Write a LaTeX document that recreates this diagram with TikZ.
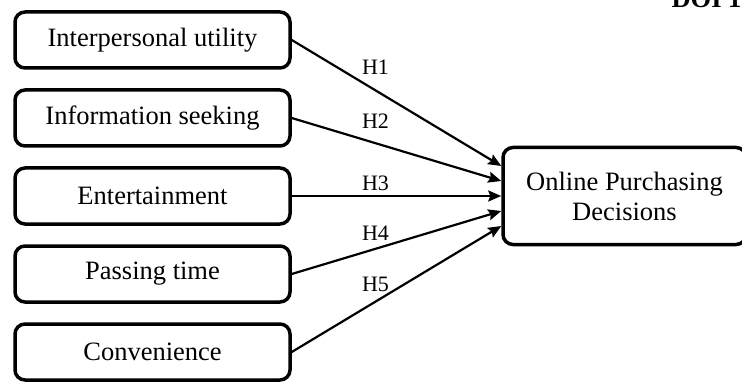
\documentclass[tikz,border=0pt]{standalone}
\usepackage{fontspec}
\setmainfont{Liberation Serif}
\usetikzlibrary{arrows.meta}
\tikzstyle{factor} = [rectangle, rounded corners=10pt, text centered, draw=black, line width=3.5pt, minimum width=275pt, minimum height=56pt, font=\fontsize{26.5}{30}\selectfont]
\tikzstyle{outcome} = [factor, align=center, minimum width=243pt, minimum height=97pt]
\tikzstyle{hyp} = [inner sep=0pt, font=\fontsize{22}{26}\selectfont]
\tikzstyle{arrow} = [line width=2.2pt,-{Stealth[length=13pt,width=11pt,inset=2pt]}]

\begin{document}
\begin{tikzpicture}[x=1pt,y=-1pt,node distance=78pt]
\useasboundingbox (0,0) rectangle (742,385);

\node (iu) [factor] at (152.5,40) {Interpersonal utility};
\node (is) [factor, below of=iu] {Information seeking};
\node (ent) [factor, below of=is] {Entertainment};
\node (pass) [factor, below of=ent] {Passing time};
\node (conv) [factor, below of=pass] {Convenience};
\node (opd) [outcome] at (624.5,196) {Online Purchasing\\Decisions};
\node (doi) [anchor=base west, font=\fontsize{26.5}{30}\selectfont\bfseries] at (668,8) {DOI 10};

\coordinate (in1) at ([yshift=30pt]opd.west);
\coordinate (in2) at ([yshift=15pt]opd.west);
\coordinate (in4) at ([yshift=-15pt]opd.west);
\coordinate (in5) at ([yshift=-30pt]opd.west);

\draw [arrow] (iu.east) -- node [hyp, pos=0.4, yshift=23pt] {H1} (in1);
\draw [arrow] (is.east) -- node [hyp, pos=0.4, yshift=22pt] {H2} (in2);
\draw [arrow] (ent) -- node [hyp, pos=0.4, yshift=13pt] {H3} (opd);
\draw [arrow] (pass.east) -- node [hyp, pos=0.4, yshift=16pt] {H4} (in4);
\draw [arrow] (conv.east) -- node [hyp, pos=0.4, yshift=17pt] {H5} (in5);

\end{tikzpicture}
\end{document}
